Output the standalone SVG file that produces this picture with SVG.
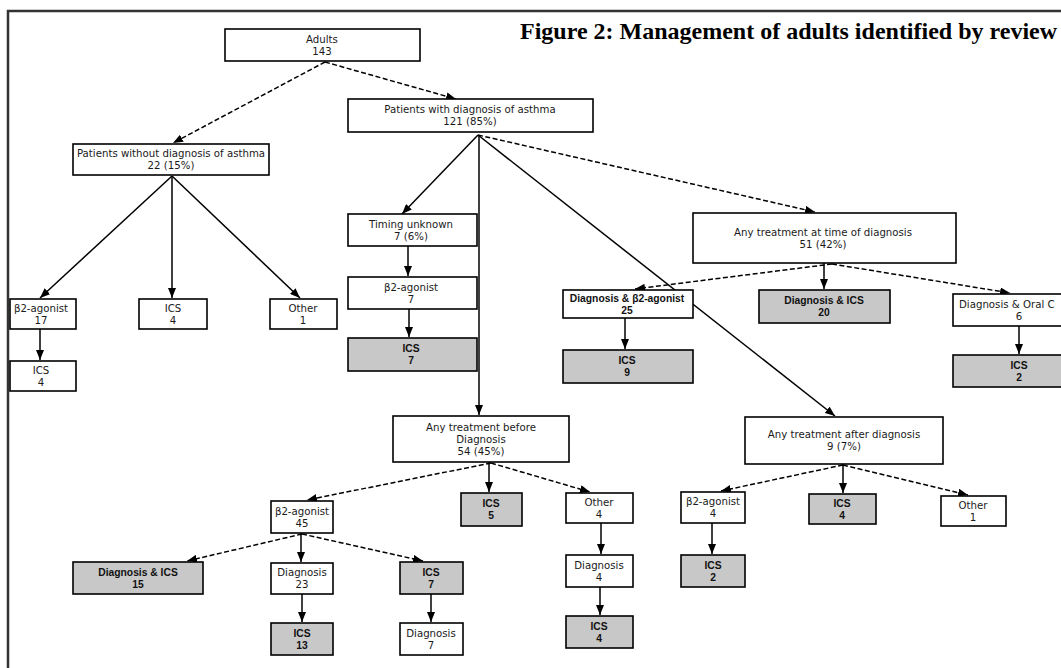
<svg xmlns="http://www.w3.org/2000/svg" width="1061" height="668" viewBox="0 0 1061 668">
<style>
.frame{fill:none;stroke:#333;stroke-width:2.5}
.title{font-family:"Liberation Serif","Times New Roman",serif;font-size:24px;font-weight:bold;fill:#000}
.box{fill:#fff;stroke:#000;stroke-width:1.6}
.gray{fill:#c8c8c8}
.t{font-family:"DejaVu Sans","Liberation Sans",sans-serif;font-size:10.2px;text-anchor:middle;fill:#1a1a1a}
.b{font-family:"Liberation Sans",Arial,sans-serif;font-size:10.3px;font-weight:bold;fill:#111}
.c{fill:none;stroke:#000;stroke-width:1.5;marker-end:url(#ah)}
.d{stroke-dasharray:5 2.5}
</style>
<defs>
<marker id="ah" markerUnits="userSpaceOnUse" markerWidth="10" markerHeight="8" refX="10" refY="4" orient="auto">
<path d="M0,0 L10,4 L0,8 z" fill="#000"/>
</marker>
</defs>
<rect width="1061" height="668" fill="#fff"/>
<path class="frame" d="M8,668 V11 H1061"/>
<text class="title" x="520" y="39">Figure 2: Management of adults identified by review</text>

<g id="connectors">
<line class="c d" x1="325" y1="62" x2="173" y2="143"/>
<line class="c d" x1="325" y1="62" x2="456" y2="99"/>
<line class="c" x1="478" y1="135" x2="402" y2="214"/>
<line class="c" x1="479" y1="135" x2="479" y2="415"/>
<line class="c" x1="478" y1="135" x2="835" y2="416"/>
<line class="c d" x1="478" y1="135" x2="815" y2="212"/>
<line class="c" x1="172" y1="176" x2="40" y2="298"/>
<line class="c" x1="172" y1="176" x2="172" y2="298"/>
<line class="c" x1="172" y1="176" x2="300" y2="298"/>
<line class="c" x1="40" y1="329" x2="40" y2="360"/>
<line class="c" x1="408" y1="246" x2="408" y2="276"/>
<line class="c" x1="409" y1="309" x2="409" y2="337"/>
<line class="c d" x1="832" y1="264" x2="635" y2="289"/>
<line class="c" x1="824" y1="263" x2="824" y2="289"/>
<line class="c d" x1="832" y1="264" x2="1010" y2="293"/>
<line class="c" x1="625" y1="318" x2="625" y2="349"/>
<line class="c" x1="1019" y1="326" x2="1019" y2="354"/>
<line class="c d" x1="491" y1="463" x2="307" y2="500"/>
<line class="c" x1="489" y1="462" x2="489" y2="492"/>
<line class="c d" x1="491" y1="463" x2="590" y2="492"/>
<line class="c" x1="601" y1="523" x2="601" y2="554"/>
<line class="c" x1="600" y1="587" x2="600" y2="615"/>
<line class="c d" x1="302" y1="534" x2="187" y2="561"/>
<line class="c" x1="301" y1="533" x2="301" y2="562"/>
<line class="c d" x1="302" y1="534" x2="423" y2="561"/>
<line class="c" x1="302" y1="594" x2="302" y2="622"/>
<line class="c" x1="431" y1="594" x2="431" y2="622"/>
<line class="c d" x1="843" y1="465" x2="721" y2="491"/>
<line class="c" x1="843" y1="464" x2="843" y2="493"/>
<line class="c d" x1="843" y1="465" x2="968" y2="495"/>
<line class="c" x1="712" y1="523" x2="712" y2="554"/>
</g>

<g id="adults"><rect class="box" x="225" y="29" width="195" height="32"/><text class="t" x="322" y="42.5">Adults</text><text class="t" x="322" y="54.5">143</text></g>
<g id="without"><rect class="box" x="73" y="144" width="196" height="31"/><text class="t" x="171" y="157">Patients without diagnosis of asthma</text><text class="t" x="171" y="169">22 (15%)</text></g>
<g id="with"><rect class="box" x="348" y="99" width="245" height="33"/><text class="t" x="470" y="113">Patients with diagnosis of asthma</text><text class="t" x="470" y="125">121 (85%)</text></g>

<g id="l-b2"><rect class="box" x="10" y="299" width="66" height="30"/><text class="t" x="41" y="311.5">β2-agonist</text><text class="t" x="41" y="323.5">17</text></g>
<g id="l-ics"><rect class="box" x="139" y="299" width="68" height="30"/><text class="t" x="173" y="311.5">ICS</text><text class="t" x="173" y="323.5">4</text></g>
<g id="l-other"><rect class="box" x="270" y="299" width="67" height="30"/><text class="t" x="303" y="311.5">Other</text><text class="t" x="303" y="323.5">1</text></g>
<g id="l-ics2"><rect class="box" x="10" y="361" width="66" height="30"/><text class="t" x="41" y="373.5">ICS</text><text class="t" x="41" y="385.5">4</text></g>

<g id="timing"><rect class="box" x="348" y="214" width="129" height="32"/><text class="t" x="411" y="227.5">Timing unknown</text><text class="t" x="411" y="239.5">7 (6%)</text></g>
<g id="t-b2"><rect class="box" x="348" y="277" width="129" height="32"/><text class="t" x="411" y="290.5">β2-agonist</text><text class="t" x="411" y="302.5">7</text></g>
<g id="t-ics"><rect class="box gray" x="348" y="338" width="129" height="33"/><text class="t b" x="411" y="352">ICS</text><text class="t b" x="411" y="364">7</text></g>

<g id="attime"><rect class="box" x="693" y="213" width="263" height="50"/><text class="t" x="823" y="235.5">Any treatment at time of diagnosis</text><text class="t" x="823" y="247.5">51 (42%)</text></g>
<g id="d-b2"><rect class="box" x="563" y="290" width="130" height="28"/><text class="t b" x="627" y="301.5">Diagnosis &amp; β2-agonist</text><text class="t b" x="627" y="313.5">25</text></g>
<g id="d-ics"><rect class="box gray" x="759" y="290" width="131" height="33"/><text class="t b" x="824" y="304">Diagnosis &amp; ICS</text><text class="t b" x="824" y="316">20</text></g>
<g id="d-oral"><rect class="box" x="953" y="294" width="120" height="32"/><text class="t" x="959" y="307.5" style="text-anchor:start">Diagnosis &amp; Oral C</text><text class="t" x="1019" y="319.5">6</text></g>
<g id="o-ics"><rect class="box gray" x="953" y="355" width="120" height="32"/><text class="t b" x="1019" y="368.5">ICS</text><text class="t b" x="1019" y="380.5">2</text></g>
<g id="b2-ics"><rect class="box gray" x="563" y="350" width="130" height="33"/><text class="t b" x="627" y="364">ICS</text><text class="t b" x="627" y="376">9</text></g>

<g id="before"><rect class="box" x="393" y="416" width="176" height="46"/><text class="t" x="481" y="430.5">Any treatment before</text><text class="t" x="481" y="442.5">Diagnosis</text><text class="t" x="481" y="454.5">54 (45%)</text></g>
<g id="b-b2"><rect class="box" x="271" y="501" width="62" height="32"/><text class="t" x="302" y="514.5">β2-agonist</text><text class="t" x="302" y="526.5">45</text></g>
<g id="b-ics"><rect class="box gray" x="461" y="493" width="61" height="33"/><text class="t b" x="491" y="507">ICS</text><text class="t b" x="491" y="519">5</text></g>
<g id="b-other"><rect class="box" x="566" y="493" width="67" height="30"/><text class="t" x="599" y="505.5">Other</text><text class="t" x="599" y="517.5">4</text></g>
<g id="b-diag"><rect class="box" x="566" y="555" width="67" height="32"/><text class="t" x="599" y="568.5">Diagnosis</text><text class="t" x="599" y="580.5">4</text></g>
<g id="b-ics4"><rect class="box gray" x="566" y="616" width="67" height="32"/><text class="t b" x="599" y="629.5">ICS</text><text class="t b" x="599" y="641.5">4</text></g>
<g id="b-dics"><rect class="box gray" x="73" y="562" width="130" height="32"/><text class="t b" x="138" y="575.5">Diagnosis &amp; ICS</text><text class="t b" x="138" y="587.5">15</text></g>
<g id="b-diag23"><rect class="box" x="271" y="563" width="62" height="31"/><text class="t" x="302" y="576">Diagnosis</text><text class="t" x="302" y="588">23</text></g>
<g id="b-ics13"><rect class="box gray" x="271" y="623" width="62" height="32"/><text class="t b" x="302" y="636.5">ICS</text><text class="t b" x="302" y="648.5">13</text></g>
<g id="b-ics7"><rect class="box gray" x="400" y="562" width="63" height="32"/><text class="t b" x="431" y="575.5">ICS</text><text class="t b" x="431" y="587.5">7</text></g>
<g id="b-diag7"><rect class="box" x="400" y="623" width="63" height="32"/><text class="t" x="431" y="636.5">Diagnosis</text><text class="t" x="431" y="648.5">7</text></g>

<g id="after"><rect class="box" x="745" y="417" width="198" height="47"/><text class="t" x="844" y="438">Any treatment after diagnosis</text><text class="t" x="844" y="450">9 (7%)</text></g>
<g id="a-b2"><rect class="box" x="681" y="492" width="64" height="31"/><text class="t" x="713" y="505">β2-agonist</text><text class="t" x="713" y="517">4</text></g>
<g id="a-ics"><rect class="box gray" x="809" y="494" width="67" height="30"/><text class="t b" x="842" y="506.5">ICS</text><text class="t b" x="842" y="518.5">4</text></g>
<g id="a-other"><rect class="box" x="941" y="496" width="65" height="30"/><text class="t" x="973" y="508.5">Other</text><text class="t" x="973" y="520.5">1</text></g>
<g id="a-ics2"><rect class="box gray" x="681" y="555" width="64" height="32"/><text class="t b" x="713" y="568.5">ICS</text><text class="t b" x="713" y="580.5">2</text></g>
</svg>
